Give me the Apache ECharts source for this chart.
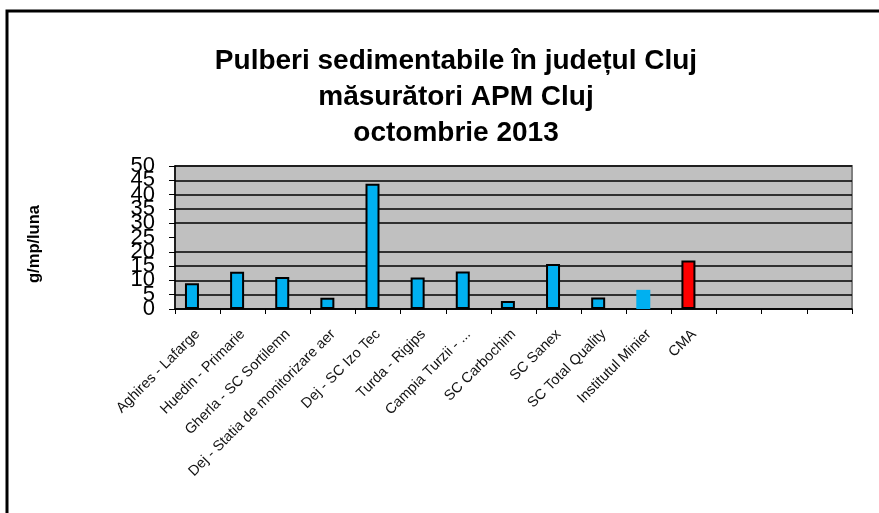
<!DOCTYPE html>
<html>
<head>
<meta charset="utf-8">
<script src="https://cdn.jsdelivr.net/npm/echarts@6/dist/echarts.min.js"></script>
<style>html,body{margin:0;padding:0;background:#fff;}#c{width:879px;height:513px;}</style>
</head>
<body>
<div id="c"></div>
<script>
var titleLines = ['Pulberi sedimentabile în județul Cluj', 'măsurători APM Cluj', 'octombrie 2013'];
var yAxisTitle = 'g/mp/luna';
var categories = ['Aghires - Lafarge', 'Huedin - Primarie', 'Gherla - SC Sortilemn', 'Dej - Statia de monitorizare aer', 'Dej - SC Izo Tec', 'Turda - Rigips', 'Campia Turzii - ...', 'SC Carbochim', 'SC Sanex', 'SC Total Quality', 'Institutul Minier', 'CMA', '', '', ''];
var values = [9, 13, 11.2, 3.9, 43.8, 11, 13.1, 2.8, 15.7, 4, 6.7, 17, null, null, null];
var yMin = 0, yMax = 50, yStep = 5;

var chart = echarts.init(document.getElementById('c'), null, {renderer: 'canvas'});

var data = values.map(function (v, i) {
  var name = categories[i];
  var style = {color: '#00b0f0', borderColor: '#000', borderWidth: 2};
  if (name === 'CMA') style = {color: '#ff0000', borderColor: '#000', borderWidth: 2};
  if (name === 'Institutul Minier') style = {color: '#00b0f0', borderWidth: 0};
  return {value: v, itemStyle: style};
});

// gridline colours (the 25 line is not drawn in the reference)
var gridColors = [];
for (var k = yMin; k <= yMax; k += yStep) gridColors.push(k === 25 ? 'rgba(0,0,0,0)' : '#000');

var labelFont = {fontSize: 22, color: '#000', margin: 20, showMinLabel: true, showMaxLabel: true, hideOverlap: false};

chart.setOption({
  animation: false,
  backgroundColor: '#fff',
  textStyle: {fontFamily: 'Liberation Sans, Arial, sans-serif'},
  title: {
    text: titleLines.join('\n'),
    left: 451,
    top: 38,
    textAlign: 'center',
    textStyle: {fontSize: 28, fontWeight: 'bold', color: '#000', lineHeight: 36, fontFamily: 'Liberation Sans, Arial, sans-serif'}
  },
  graphic: [
    {type: 'rect', shape: {x: 7, y: 11, width: 900, height: 600}, style: {fill: 'none', stroke: '#000', lineWidth: 3}, silent: true},
    {type: 'text', x: 34, y: 244, rotation: Math.PI / 2, style: {text: yAxisTitle, font: 'bold 16.5px Liberation Sans, Arial, sans-serif', fill: '#000', align: 'center', verticalAlign: 'middle'}}
  ],
  grid: {
    left: 175, right: 27, top: 166, bottom: 204,
    show: true, backgroundColor: '#c0c0c0', borderColor: '#808080', borderWidth: 2
  },
  xAxis: {
    type: 'category',
    data: categories,
    axisLine: {lineStyle: {color: '#000', width: 1.5}},
    axisTick: {show: true, length: 5, lineStyle: {color: '#000'}},
    axisLabel: {interval: 0, rotate: 45, fontSize: 14.5, color: '#111', margin: 23}
  },
  yAxis: [
    {
      type: 'value',
      min: yMin, max: yMax, interval: yStep,
      axisLine: {show: true, lineStyle: {color: '#000', width: 1.5}},
      axisTick: {show: true, length: 6, lineStyle: {color: '#000'}},
      axisLabel: Object.assign({}, labelFont, {formatter: function (v) { return (v / yStep) % 2 === 0 ? String(v) : ''; }}),
      splitLine: {show: true, lineStyle: {color: gridColors, width: 1.5}}
    },
    {
      type: 'value',
      position: 'left',
      min: yMin, max: yMax, interval: yStep,
      axisLine: {show: false},
      axisTick: {show: false},
      axisLabel: Object.assign({}, labelFont, {formatter: function (v) { return (v / yStep) % 2 === 1 ? String(v) : ''; }}),
      splitLine: {show: false}
    }
  ],
  series: [
    {type: 'bar', data: data, barWidth: 14, barGap: '-20%'},
    {type: 'bar', data: values.map(function () { return null; }), barWidth: 14}
  ]
});
</script>
</body>
</html>
